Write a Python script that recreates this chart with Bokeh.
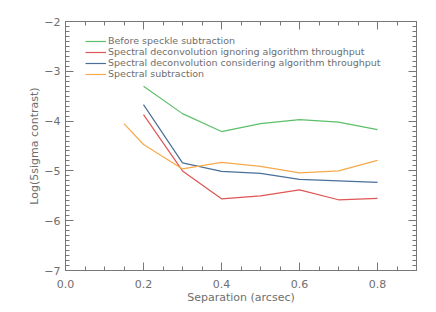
from bokeh.plotting import figure
from bokeh.models import LinearAxis, FixedTicker, Legend, LegendItem, Range1d
from bokeh.embed import file_html
from bokeh.resources import INLINE

sep_main = [0.2, 0.3, 0.4, 0.5, 0.6, 0.7, 0.8]
before = [-3.30, -3.85, -4.21, -4.05, -3.97, -4.02, -4.17]
ignoring = [-3.87, -5.00, -5.56, -5.50, -5.38, -5.58, -5.55]
considering = [-3.67, -4.84, -5.01, -5.05, -5.17, -5.20, -5.23]
sep_sub = [0.15, 0.2, 0.3, 0.4, 0.5, 0.6, 0.7, 0.8]
spectral_sub = [-4.05, -4.47, -4.96, -4.83, -4.91, -5.04, -5.00, -4.79]

x_ticks = [0.0, 0.2, 0.4, 0.6, 0.8]
x_tick_labels = ["0.0", "0.2", "0.4", "0.6", "0.8"]
y_ticks = [-7, -6, -5, -4, -3, -2]
y_tick_labels = ["\u22127", "\u22126", "\u22125", "\u22124", "\u22123", "\u22122"]

names = ["Before speckle subtraction",
         "Spectral deconvolution ignoring algorithm throughput",
         "Spectral deconvolution considering algorithm throughput",
         "Spectral subtraction"]
colors = ["#5cbf6a", "#e05555", "#4a6f98", "#f5a94a"]

FONT = "DejaVu Sans"
GRAY = "#6e6e6e"
AX = "#777777"

p = figure(frame_width=351, frame_height=249, output_backend="svg", toolbar_location=None,
           x_range=Range1d(0, 0.9), y_range=Range1d(-7, -2),
           x_axis_label="Separation (arcsec)", y_axis_label="Log(5sigma contrast)",
           min_border_left=65, min_border_right=20, min_border_top=21, min_border_bottom=42)
p.grid.visible = False
p.outline_line_color = AX

minor_x = [i * 0.05 for i in range(0, 19)]
minor_y = [-7 + i * 0.1 for i in range(0, 51)]

def style(ax):
    ax.axis_line_color = AX
    ax.major_tick_line_color = AX
    ax.minor_tick_line_color = AX
    ax.major_tick_in = 8
    ax.major_tick_out = 0
    ax.minor_tick_in = 4
    ax.minor_tick_out = 0
    ax.major_label_text_font = FONT
    ax.major_label_text_color = GRAY
    ax.major_label_text_font_size = "11px"
    ax.axis_label_text_font = FONT
    ax.axis_label_text_color = GRAY
    ax.axis_label_text_font_size = "11px"
    ax.axis_label_text_font_style = "normal"

xa = p.xaxis[0]
xa.ticker = FixedTicker(ticks=x_ticks, minor_ticks=minor_x)
xa.major_label_overrides = dict(zip(x_ticks, x_tick_labels))
style(xa)
xa.major_label_standoff = 9
xa.axis_label_standoff = 0

ya = p.yaxis[0]
ya.ticker = FixedTicker(ticks=y_ticks, minor_ticks=minor_y)
ya.major_label_overrides = dict(zip(y_ticks, y_tick_labels))
style(ya)
ya.major_label_standoff = 5
ya.axis_label_standoff = 0

top = LinearAxis(ticker=FixedTicker(ticks=x_ticks, minor_ticks=minor_x),
                 major_label_overrides={t: "" for t in x_ticks})
style(top)
top.major_label_standoff = 0
p.add_layout(top, "above")
right = LinearAxis(ticker=FixedTicker(ticks=y_ticks, minor_ticks=minor_y),
                   major_label_overrides={t: "" for t in y_ticks})
style(right)
right.major_label_standoff = 0
p.add_layout(right, "right")

r1 = p.line(sep_main, before, line_color=colors[0], line_width=1.2)
r2 = p.line(sep_main, ignoring, line_color=colors[1], line_width=1.2)
r3 = p.line(sep_main, considering, line_color=colors[2], line_width=1.2)
r4 = p.line(sep_sub, spectral_sub, line_color=colors[3], line_width=1.2)

for i, (n, r) in enumerate(zip(names, [r1, r2, r3, r4])):
    lg = Legend(items=[LegendItem(label=n, renderers=[r])],
                location=(20, 224 - 11 * i), border_line_alpha=0, background_fill_alpha=0,
                spacing=0, padding=0, margin=0, label_height=10, glyph_height=10,
                glyph_width=21, label_standoff=2,
                label_text_font=FONT, label_text_color=GRAY, label_text_font_size="9.5px")
    p.add_layout(lg, "center")

open("out.html", "w").write(file_html(p, INLINE))
